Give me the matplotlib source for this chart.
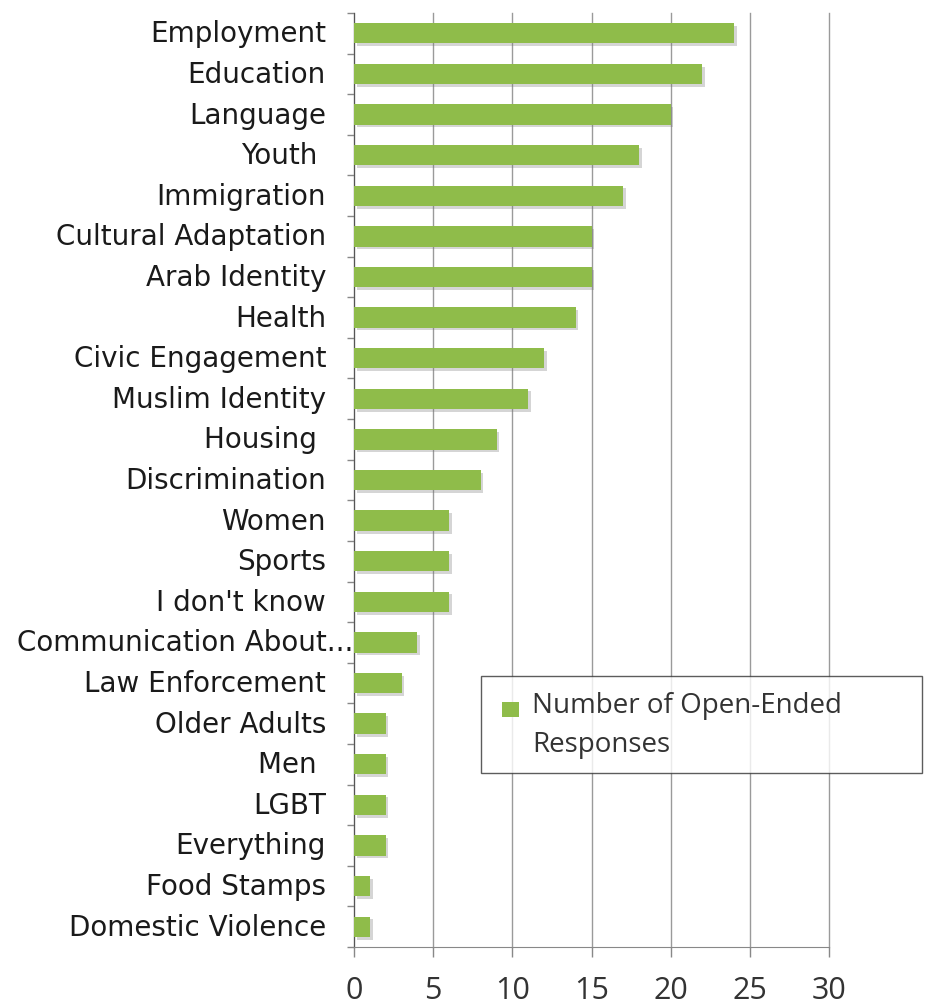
"""
    Horizontal bar chart of open-ended survey responses by topic.
"""
import matplotlib
matplotlib.use("Agg")

import matplotlib.pyplot as plt
import matplotlib.patheffects as pe
import matplotlib.transforms as mtransforms
from matplotlib.legend_handler import HandlerPatch
from matplotlib.patches import Patch, Rectangle

# Topics, top to bottom, and the number of responses that mentioned each one.
topics = [
    "Employment", "Education", "Language", "Youth ", "Immigration",
    "Cultural Adaptation", "Arab Identity", "Health", "Civic Engagement",
    "Muslim Identity", "Housing ", "Discrimination", "Women", "Sports",
    "I don't know", "Communication About...", "Law Enforcement",
    "Older Adults", "Men ", "LGBT", "Everything", "Food Stamps",
    "Domestic Violence",
]
responses = [24, 22, 20, 18, 17, 15, 15, 14, 12, 11, 9, 8, 6, 6, 6,
             4, 3, 2, 2, 2, 2, 1, 1]
x_ticks = [0, 5, 10, 15, 20, 25, 30]
series_name = "Number of Open-Ended\nResponses"

BAR_COLOR = "#8fbc4a"
GRID_COLOR = "#9a9a9a"


def top_square(legend, orig_handle, xdescent, ydescent, width, height, fontsize):
    # small square level with the first line of a two-line label
    side = 0.55 * fontsize
    return Rectangle((-xdescent + 0.2 * fontsize, -ydescent + 0.68 * fontsize), side * 1.1, side)


def plot_responses(out_file: str = "out.png") -> None:
    fig = plt.figure(figsize=(9.27, 10.04), dpi=100)
    ax = fig.add_axes([354 / 927, 56 / 1004, 475 / 927, 934 / 1004])

    pos = list(range(len(topics)))
    bars = ax.barh(pos, responses, height=0.5, color=BAR_COLOR, zorder=3)
    for bar in bars:
        bar.set_path_effects([
            pe.SimplePatchShadow(offset=(2, -2), shadow_rgbFace="#777777", alpha=0.3),
            pe.Normal(),
        ])

    ax.set_ylim(len(topics) - 0.5, -0.5)
    ax.set_xlim(0, 30)

    # x axis: ticks every 5, outward, with vertical grid lines
    ax.set_xticks(x_ticks)
    ax.set_xticklabels([str(t) for t in x_ticks], family="Open Sans",
                       fontsize=22, color="#333333")
    ax.tick_params(axis="x", direction="out", length=7, width=1,
                   color="#888888", pad=13)
    ax.grid(axis="x", color=GRID_COLOR, linewidth=1, zorder=0)
    for line in ax.get_xgridlines():
        line.set_clip_on(False)

    # y axis: small ticks on the category boundaries, labels drawn by hand
    ax.set_yticks([p - 0.5 for p in pos] + [len(topics) - 0.5])
    ax.set_yticklabels([])
    ax.tick_params(axis="y", direction="out", length=5, width=1, color="#888888")

    label_off = mtransforms.ScaledTranslation(-28 / 100, 0, fig.dpi_scale_trans)
    long_off = mtransforms.ScaledTranslation(-1 / 100, 0, fig.dpi_scale_trans)
    base = mtransforms.blended_transform_factory(ax.transAxes, ax.transData)
    for p, name in zip(pos, topics):
        off = long_off if name.endswith("...") else label_off
        ax.text(0, p, name, transform=base + off, ha="right", va="center",
                family="DejaVu Sans", fontsize=20, color="#1a1a1a")

    for side in ("top", "right"):
        ax.spines[side].set_visible(False)
    ax.spines["left"].set_color("#555555")
    ax.spines["bottom"].set_color("#888888")

    handle = Patch(facecolor=BAR_COLOR, edgecolor="none")
    leg = fig.legend([handle], [series_name], loc="upper left",
                     bbox_to_anchor=(481 / 927, 1 - 677 / 1004, 441 / 927, 0.0),
                     mode="expand", fancybox=False, frameon=True,
                     prop={"family": "Open Sans", "size": 20},
                     handler_map={Patch: HandlerPatch(patch_func=top_square)},
                     handlelength=0.9, handleheight=0.8, handletextpad=0.4,
                     borderaxespad=0, borderpad=0.55, alignment="left")
    leg.get_frame().set_edgecolor("#333333")
    leg.get_frame().set_linewidth(1)
    for t in leg.get_texts():
        t.set_color("#333333")
        t.set_linespacing(1.5)

    fig.savefig(out_file, dpi=100, facecolor="white")


if __name__ == "__main__":
    plot_responses()
